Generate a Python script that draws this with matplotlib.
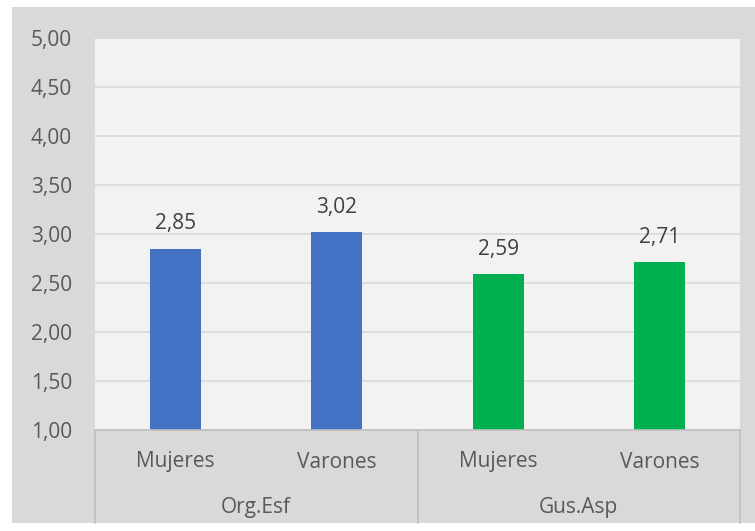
import matplotlib.pyplot as plt
from matplotlib.patches import Rectangle
from matplotlib.transforms import blended_transform_factory

groups = ["Org.Esf", "Gus.Asp"]
categories = ["Mujeres", "Varones", "Mujeres", "Varones"]
values = [2.85, 3.02, 2.59, 2.71]
colors = ["#4472C4", "#4472C4", "#00B050", "#00B050"]
yticks = [1.0, 1.5, 2.0, 2.5, 3.0, 3.5, 4.0, 4.5, 5.0]

W, H = 755, 531
FS = 15
plt.rcParams['font.family'] = ['Open Sans', 'DejaVu Sans']

fig = plt.figure(figsize=(W / 100, H / 100), dpi=100, facecolor="white")
# chart area background, behind the axes
bg = Rectangle((12 / W, (H - 523) / H), (W - 12) / W, (523 - 7) / H,
               transform=fig.transFigure, facecolor="#d9d9d9",
               edgecolor="none", zorder=-10)
fig.add_artist(bg)

ax = fig.add_axes([95 / W, (H - 430) / H, (740 - 95) / W, (430 - 38) / H])
ax.set_facecolor("#f2f2f2")

x = list(range(len(values)))
ax.bar(x, values, width=0.316, color=colors, zorder=3, bottom=0)
ax.set_xlim(-0.5, 3.5)
ax.set_ylim(1, 5)
ax.set_yticks(yticks)
ax.set_yticklabels([f"{v:.2f}".replace(".", ",") for v in yticks])
ax.tick_params(axis="y", length=0, pad=16.5, labelsize=FS, labelcolor="#595959")
ax.set_xticks([])
ax.grid(axis="y", color="#d9d9d9", linewidth=1.2, zorder=1)
for s in ["top", "right", "left"]:
    ax.spines[s].set_visible(False)
ax.spines["bottom"].set_color("#bfbfbf")
ax.spines["bottom"].set_linewidth(1.2)
ax.spines["bottom"].set_zorder(4)

for xi, v in zip(x, values):
    ax.annotate(f"{v:.2f}".replace(".", ","), (xi, v), xytext=(0, 18),
                textcoords="offset points", ha="center", va="center",
                fontsize=FS, color="#404040")

tr = blended_transform_factory(ax.transData, ax.transAxes)
bottom = (430 - 523) / (430 - 38)
for sx in [-0.5, 1.5, 3.5]:
    ax.plot([sx, sx], [0, bottom], transform=tr, color="#bfbfbf",
            linewidth=1.2, clip_on=False)

for xi, c in zip(x, categories):
    ax.text(xi, (430 - 462) / (430 - 38), c, transform=tr, ha="center",
            va="center", fontsize=FS, color="#595959")
for gi, g in enumerate(groups):
    ax.text(gi * 2 + 0.5, (430 - 507) / (430 - 38), g, transform=tr,
            ha="center", va="center", fontsize=FS, color="#595959")

fig.savefig("out.png", dpi=100, facecolor=fig.get_facecolor())
